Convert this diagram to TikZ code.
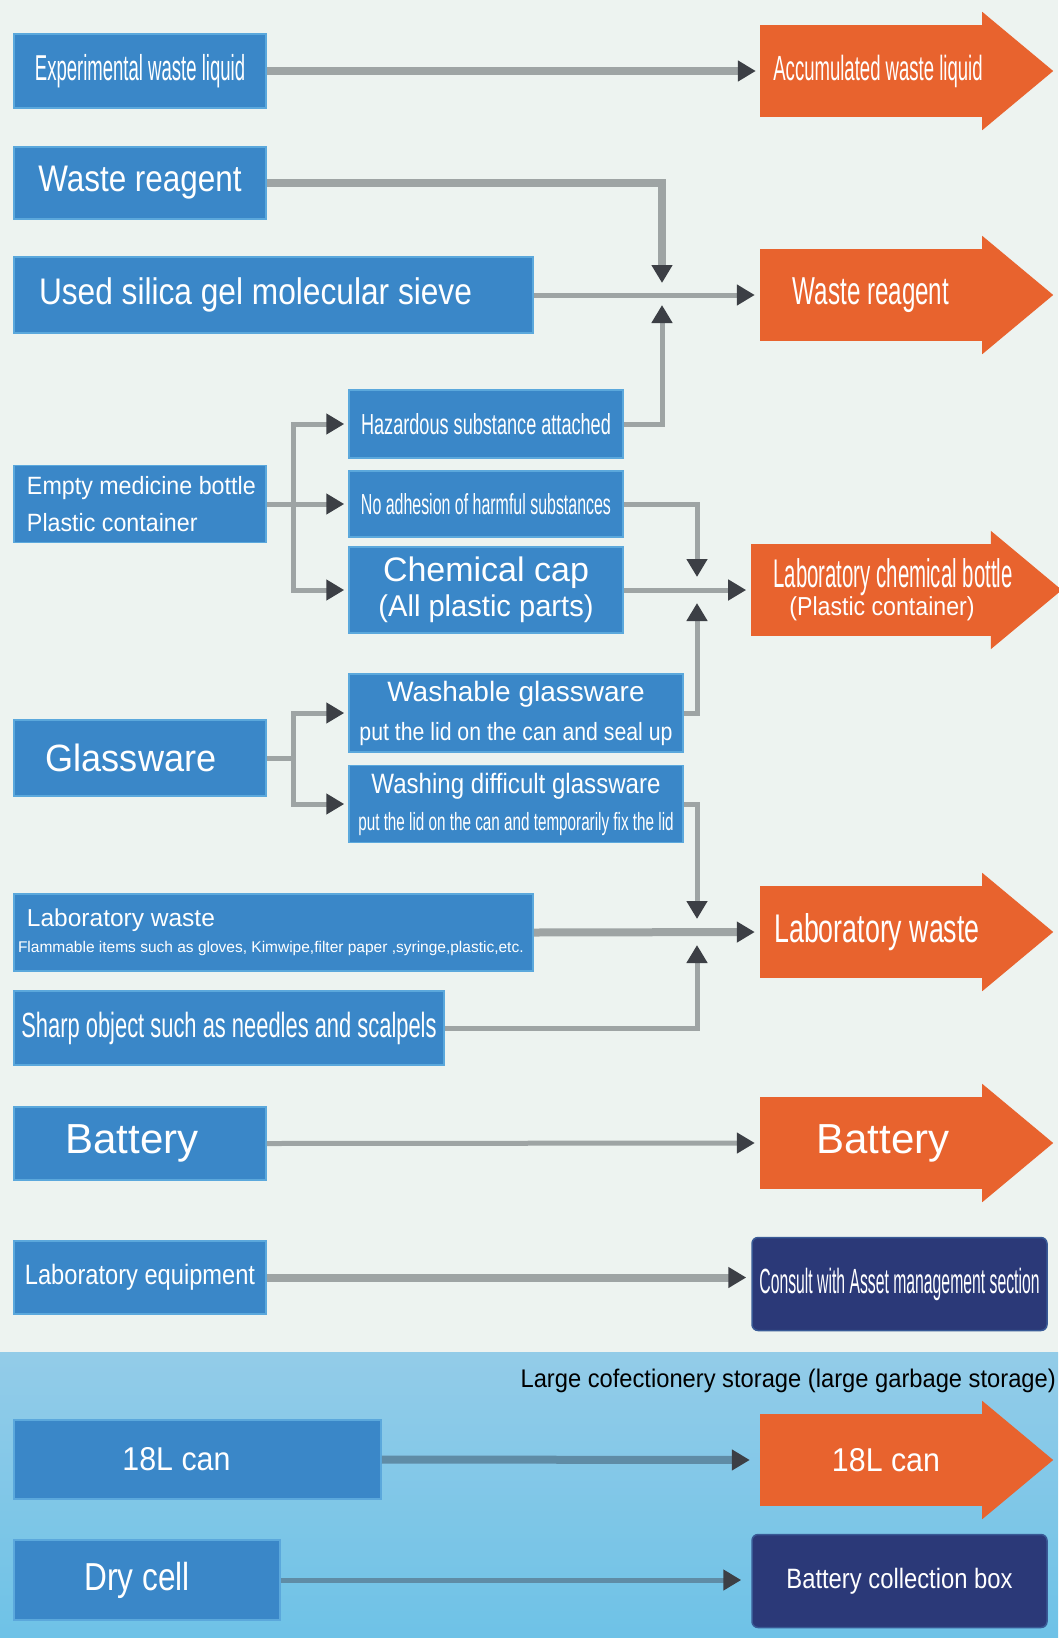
\documentclass[tikz,border=0pt]{standalone}
\usepackage{fontspec}
\setmainfont{Liberation Sans}
\usepackage{graphicx}
\usetikzlibrary{arrows.meta,positioning,calc}
\pgfdeclarelayer{bg}
\pgfsetlayers{bg,main}
\definecolor{mint}{HTML}{EDF3F0}
\definecolor{skyA}{HTML}{93CCE8}
\definecolor{skyB}{HTML}{6EC2E7}
\definecolor{boxblue}{HTML}{3A87C8}
\definecolor{boxedge}{HTML}{5BA8DC}
\definecolor{orng}{HTML}{E8632E}
\definecolor{navy}{HTML}{2B3978}
\definecolor{lgray}{HTML}{9EA4A4}
\definecolor{lslate}{HTML}{5F8CA6}
\definecolor{tipdk}{HTML}{3C3F45}
\newcommand{\sqz}[3]{\scalebox{#2}[1]{\fontsize{#1}{#1}\selectfont #3}}
\newcommand{\nudge}[2]{\hspace*{#1}#2\hspace*{-#1}}
\tikzstyle{bbox} = [rectangle, fill=boxblue, draw=boxedge, line width=1.5pt,
    text=white, inner sep=0pt, align=center]
\tikzstyle{obox} = [rectangle, fill=orng, text=white, inner sep=0pt,
    minimum width=222pt, minimum height=92pt, align=center]
\tikzstyle{nbox} = [rectangle, rounded corners=6pt, fill=navy,
    draw=navy!70!boxedge, line width=1.5pt, text=white, inner sep=0pt,
    minimum width=295pt, minimum height=93pt]
\tikzstyle{wire} = [draw=lgray, line width=5pt]
\tikzstyle{conn} = [wire, -{Triangle[length=18pt,width=20pt,color=tipdk]}]
\tikzstyle{fat} = [line width=8pt]
\newcommand{\ohead}[1]{
  \fill[orng] ([yshift=13pt]#1.north east) -- ([xshift=71pt]#1.east)
    -- ([yshift=-13pt]#1.south east) -- cycle;
}

\begin{document}
\begin{tikzpicture}[x=1pt,y=-1pt]
\useasboundingbox (0,0) rectangle (1058,1638);
\begin{pgfonlayer}{bg}
\fill[mint] (0,0) rectangle (1058,1352);
\shade[top color=skyA, bottom color=skyB] (0,1352) rectangle (1058,1638);
\end{pgfonlayer}

% sources
\node[bbox, minimum width=252pt, minimum height=74pt] (exp) at (140,71)
  {\sqz{36}{0.515}{Experimental waste liquid}};
\node[bbox, minimum width=252pt, minimum height=72pt] (wreag) at (140,183)
  {\sqz{37}{0.85}{Waste reagent}};
\node[bbox, minimum width=519pt, minimum height=76pt, text width=469pt,
  align=flush left] (silica) at (273.5,295)
  {\sqz{37}{0.856}{Used silica gel molecular sieve}};
\node[bbox, minimum width=252pt, minimum height=77pt, text width=226pt,
  align=flush left, font=\fontsize{25}{37}\selectfont] (medi) at (140,504)
  {\sqz{25}{0.93}{Empty medicine bottle}\\\sqz{25}{0.93}{Plastic container}};
\node[bbox, minimum width=252pt, minimum height=76pt] (glass) at (140,758)
  {\nudge{-9pt}{\sqz{38}{0.95}{Glassware}}};
\node[bbox, minimum width=519pt, minimum height=77pt, text width=511pt,
  align=flush left, font=\fontsize{15.5}{26}\selectfont] (labw) at (273.5,932.5)
  {\hspace*{9pt}\sqz{24.5}{1}{Laboratory waste}\\
   \sqz{15.5}{1}{Flammable items such as gloves, Kimwipe,filter paper ,syringe,plastic,etc.}};
\node[bbox, minimum width=430pt, minimum height=74pt] (sharp) at (229,1028)
  {\sqz{35}{0.626}{Sharp object such as needles and scalpels}};
\node[bbox, minimum width=252pt, minimum height=73pt] (batt) at (140,1143.5)
  {\nudge{-8pt}{\sqz{42}{1}{Battery}}};
\node[bbox, minimum width=252pt, minimum height=73pt] (equip) at (140,1277.5)
  {\sqz{28}{0.845}{Laboratory equipment}};
\node[bbox, minimum width=367pt, minimum height=79pt] (can) at (197.5,1459.5)
  {\nudge{-21pt}{\sqz{33}{0.92}{18L can}}};
\node[bbox, minimum width=266pt, minimum height=80pt] (dry) at (147,1580)
  {\nudge{-10pt}{\sqz{39}{0.81}{Dry cell}}};

% sorting
\node[bbox, minimum width=274pt, minimum height=68pt] (haz) at (486,424)
  {\sqz{29}{0.625}{Hazardous substance attached}};
\node[bbox, minimum width=274pt, minimum height=66pt] (noadh) at (486,504)
  {\sqz{29}{0.55}{No adhesion of harmful substances}};
\node[bbox, minimum width=274pt, minimum height=86pt,
  font=\fontsize{30}{35}\selectfont] (cap) at (486,590)
  {\sqz{34}{1}{Chemical cap}\\\sqz{30}{0.97}{(All plastic parts)}};
\node[bbox, minimum width=334pt, minimum height=78pt,
  font=\fontsize{25}{39}\selectfont] (wash) at (516,713)
  {\sqz{28}{1}{Washable glassware}\\\sqz{25}{0.85}{put the lid on the can and seal up}};
\node[bbox, minimum width=334pt, minimum height=77pt,
  font=\fontsize{25}{37}\selectfont] (wdiff) at (516,804)
  {\sqz{28}{0.86}{Washing difficult glassware}\\
   \sqz{25}{0.61}{put the lid on the can and temporarily fix the lid}};

% destinations
\node[obox] (a1) at (871,71) {\nudge{7pt}{\sqz{35}{0.53}{Accumulated waste liquid}}};
\node[obox] (a2) at (871,295) {\sqz{39}{0.62}{Waste reagent}};
\node[obox, font=\fontsize{26}{28}\selectfont] (a3) at (871,590)
  {\nudge{22pt}{\sqz{40}{0.51}{Laboratory chemical bottle}}\\
   \nudge{11pt}{\sqz{26}{0.89}{(Plastic container)}}};
\node[obox] (a4) at (871,932) {\nudge{6pt}{\sqz{40}{0.67}{Laboratory waste}}};
\node[obox] (a5) at (871,1143) {\nudge{12pt}{\sqz{42}{1}{Battery}}};
\node[obox] (a6) at (871,1460) {\nudge{15pt}{\sqz{33}{0.92}{18L can}}};
\node[nbox] (cons) at (899.5,1284)
  {\sqz{35}{0.45}{Consult with Asset management section}};
\node[nbox] (bcbox) at (899.5,1581) {\sqz{28}{0.85}{Battery collection box}};
\node[anchor=base east, inner sep=0pt] (store) at (1056,1387)
  {\sqz{25.5}{0.93}{Large cofectionery storage (large garbage storage)}};

\begin{pgfonlayer}{bg}
\foreach \n in {1,...,6} {\ohead{a\n}}
\end{pgfonlayer}

\coordinate (j1) at (662,295);
\coordinate (j2) at (697,590);
\coordinate (j3) at (697,932);
\coordinate[right=27pt of medi.east] (t1);
\coordinate[right=27pt of glass.east] (t2);

\draw[conn, fat, shorten >=4pt] (exp.east) -- (a1.west);
\draw[conn, fat, shorten >=12pt] (wreag.east) -| (j1);
\draw[conn, shorten >=10pt] (haz.east) -| (j1);
\draw[conn, shorten >=5pt] (silica.east) -- (a2.west);

\draw[conn, shorten >=4pt] (medi.east) -- (noadh.west);
\draw[conn, shorten >=4pt] (t1) |- (haz.west);
\draw[conn, shorten >=4pt] (t1) |- (cap.west);
\draw[wire] (glass.east) -- (t2);
\draw[conn, shorten >=4pt] (t2) |- (wash.west);
\draw[conn, shorten >=4pt] (t2) |- (wdiff.west);

\draw[conn, shorten >=13pt] (noadh.east) -| (j2);
\draw[conn, shorten >=5pt] (cap.east) -- (a3.west);
\draw[conn, shorten >=13pt] (wash.east) -| (j2);
\draw[conn, shorten >=13pt] (wdiff.east) -| (j3);
\draw[conn, fat, shorten >=5pt] (labw.east) -- (a4.west);
\draw[conn, shorten >=13pt] (sharp.east) -| (j3);

\draw[conn, shorten >=5pt] (batt.east) -- (a5.west);
\draw[conn, fat, shorten >=5pt] (equip.east) -- (equip.east -| cons.west);
\draw[conn, draw=lslate, fat, shorten >=10pt] (can.east) -- (a6.west);
\draw[conn, draw=lslate, shorten >=10pt] (dry.east) -- (dry.east -| bcbox.west);

\end{tikzpicture}
\end{document}
